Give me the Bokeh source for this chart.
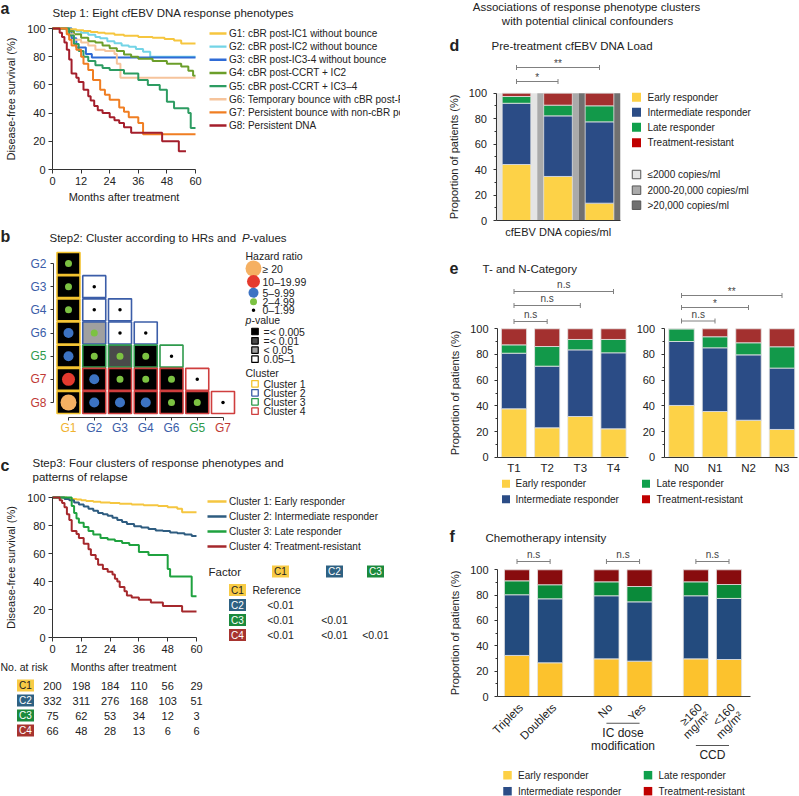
import math
from bokeh.plotting import figure
from bokeh.layouts import row, column
from bokeh.models import (Range1d, Label, LabelSet, BoxAnnotation, Whisker, TeeHead,
                          ColumnDataSource, FixedTicker)
from bokeh.core.properties import value
from bokeh.embed import file_html
from bokeh.resources import INLINE

# ------------------------------------------------------------------ data
months = [0, 12, 24, 36, 48, 60]
pct = [0, 20, 40, 60, 80, 100]
pct_minor = [10, 30, 50, 70, 90]

# panel a: Kaplan-Meier steps of the eight phenotypes
a_labels = ["G1: cBR post-IC1 without bounce", "G2: cBR post-IC2 without bounce",
            "G3: cBR post-IC3-4 without bounce", "G4: cBR post-CCRT + IC2",
            "G5: cBR post-CCRT + IC3–4", "G6: Temporary bounce with cBR post-RT",
            "G7: Persistent bounce with non-cBR post-RT", "G8: Persistent DNA"]
g1_t = [0, 7, 10, 13, 16, 19, 22, 26, 30, 36, 42, 47, 51, 54, 60]
g1_s = [100, 99.4, 98.8, 98.2, 97.6, 97, 96.4, 95.5, 94.8, 94, 93.5, 92.5, 91.5, 89.4, 89.4]
g2_t = [0, 8, 10, 12, 15, 18, 20, 23, 26, 29, 32, 35, 38, 41, 60]
g2_s = [100, 99, 98, 97, 95.5, 94, 93, 91, 89.5, 88, 87, 85.5, 83.5, 80, 80]
g3_t = [0, 8, 10, 14, 16.5, 60]
g3_s = [100, 93, 86.5, 82, 79.5, 79.5]
g4_t = [0, 6, 9, 12, 15, 18, 21, 24, 27, 30, 33, 36, 42, 48, 54, 57, 59, 60]
g4_s = [100, 98, 96, 93.5, 91, 90, 88, 86, 84, 81.5, 80, 78.5, 77, 75, 73, 70, 66.5, 66.5]
g5_t = [0, 7, 9, 11, 13, 15, 18, 21, 24, 30, 36, 40, 45, 48, 51, 57, 58, 60]
g5_s = [100, 95, 89, 84, 80, 77, 74, 72, 70.5, 68, 63.5, 60, 56.5, 48, 43.5, 40, 29.5, 29.5]
g6_t = [0, 6, 9, 12, 15, 18, 22, 26, 27, 28.5, 60]
g6_s = [100, 96, 92, 90, 88, 85, 84, 82, 75, 65, 65]
g7_t = [0, 6, 7, 8, 10, 12, 13, 15, 17, 20, 22, 24, 28, 30, 32, 36, 38, 60]
g7_s = [100, 96, 92, 88, 85, 80, 75, 70.5, 63.5, 56.5, 53, 49.5, 44, 41, 37, 33, 25, 25]
g8_t = [0, 3, 4, 5, 6, 7, 8, 10, 11, 13, 15, 16, 17.5, 19, 21, 24, 26, 28, 30, 33, 40, 46, 53, 56]
g8_s = [100, 97, 94, 90, 85, 78, 68, 65, 62, 56.5, 52, 49, 45, 42, 40, 37, 35, 33, 30, 26, 26, 20, 13, 13]

# panel b: hazard-ratio / p-value matrix (lower triangle)
b_rows = ["G2", "G3", "G4", "G6", "G5", "G7", "G8"]
b_cols = ["G1", "G2", "G3", "G4", "G6", "G5", "G7"]
# HR category: 0 = 0–1.99, 1 = 2–4.99, 2 = 5–9.99, 3 = 10–19.99, 4 = >=20
b_hr = [[1],
        [1, 0],
        [1, 0, 0],
        [2, 1, 0, 0],
        [2, 1, 1, 1, 0],
        [3, 2, 1, 1, 1, 0],
        [4, 2, 2, 2, 1, 1, 0]]
# p category: 0 = <=0.005, 1 = <=0.01, 2 = <0.05, 3 = 0.05–1
b_p = [[0],
       [0, 3],
       [0, 3, 3],
       [0, 2, 3, 3],
       [0, 0, 1, 0, 3],
       [0, 0, 0, 0, 0, 3],
       [0, 0, 0, 0, 0, 0, 3]]
g_cluster = {"G1": 1, "G2": 2, "G3": 2, "G4": 2, "G6": 2, "G5": 3, "G7": 4, "G8": 4}
hr_legend = ["≥ 20", "10–19.99", "5–9.99", "2–4.99", "0–1.99"]
p_legend = ["=< 0.005", "=< 0.01", "< 0.05", "0.05–1"]
cluster_legend = ["Cluster 1", "Cluster 2", "Cluster 3", "Cluster 4"]

# panel c: four clusters
c_labels = ["Cluster 1: Early responder", "Cluster 2: Intermediate responder",
            "Cluster 3: Late responder", "Cluster 4: Treatment-resistant"]
c1_t = [0, 6, 8, 10, 12, 14, 17, 20, 24, 28, 33, 38, 44, 48, 52, 54, 60]
c1_s = [100, 99.5, 99, 98.5, 98, 97.5, 97, 96.5, 96, 95.5, 95, 94.5, 94, 93, 92, 89.5, 89.5]
c2_t = [0, 5, 7, 9, 11, 13, 15, 17, 19, 21, 23, 25, 27, 29, 31, 34, 37, 40, 43, 46, 49, 52, 55, 58, 60]
c2_s = [100, 99, 98, 96.5, 95, 93.5, 92, 90.5, 89, 88, 87, 85.5, 84, 82.5, 81, 79.5, 78.5, 77.5,
        76.5, 76, 75, 74.5, 73.5, 72.5, 72.5]
c3_t = [0, 8, 9, 10, 11, 13, 15, 17, 20, 23, 26, 29, 32, 36, 40, 48, 49, 57, 58, 60]
c3_s = [100, 94, 89, 85, 82, 79, 76, 73.5, 71, 70, 69, 67.5, 66, 61, 59, 49, 43.5, 43.5, 29.5, 29.5]
c4_t = [0, 3, 4, 5, 6, 7, 8, 10, 11, 13, 15, 16, 18, 19, 21, 23, 25, 26, 27, 28, 30, 31, 33, 36,
        41, 46, 54, 60]
c4_s = [100, 98, 96, 93, 88, 84, 76, 74, 71, 67, 63, 59, 56, 52, 49, 47, 45, 42, 40, 36, 33, 30,
        28.5, 27, 25, 22.5, 18.5, 18.5]
c_codes = ["C1", "C2", "C3", "C4"]
factor_vals = [["Reference"], ["<0.01"], ["<0.01", "<0.01"], ["<0.01", "<0.01", "<0.01"]]
risk_c1 = [200, 198, 184, 110, 56, 29]
risk_c2 = [332, 311, 276, 168, 103, 51]
risk_c3 = [75, 62, 53, 34, 12, 3]
risk_c4 = [66, 48, 28, 13, 6, 6]

# panels d-f: stacked proportions (%)
resp_labels = ["Early responder", "Intermediate responder", "Late responder", "Treatment-resistant"]
d_groups = ["≤2000 copies/ml", "2000-20,000 copies/ml", ">20,000 copies/ml"]
d_early = [44.0, 34.6, 13.6]
d_inter = [48.1, 47.6, 63.9]
d_late = [5.3, 8.4, 12.6]
d_resist = [2.6, 9.4, 9.9]
d_sig = ["**", "*"]          # vs first group: third, second

t_cats = ["T1", "T2", "T3", "T4"]
t_early = [37.7, 22.9, 31.7, 22.1]
t_inter = [43.3, 48.0, 51.9, 59.2]
t_late = [6.5, 15.3, 8.1, 10.4]
t_resist = [12.5, 13.8, 8.3, 8.3]
t_sig = ["n.s", "n.s", "n.s"]     # T1 vs T4, T3, T2

n_cats = ["N0", "N1", "N2", "N3"]
n_early = [40.3, 35.6, 28.8, 21.6]
n_inter = [49.8, 49.6, 50.9, 47.8]
n_late = [9.9, 8.6, 9.4, 16.6]
n_resist = [0.0, 6.2, 10.9, 14.0]
n_sig = ["**", "*", "n.s"]        # N0 vs N3, N2, N1

f_cats = ["Triplets", "Doublets", "No", "Yes", "≥160\nmg/m²", "<160\nmg/m²"]
f_groups = ["", "IC dose\nmodification", "CCD"]
f_early = [32.4, 26.6, 29.7, 27.9, 29.7, 29.2]
f_inter = [47.9, 50.5, 49.8, 46.8, 49.8, 48.2]
f_late = [11.0, 11.1, 11.0, 12.1, 11.0, 11.0]
f_resist = [8.7, 11.8, 9.5, 13.2, 9.5, 11.6]
f_sig = ["n.s", "n.s", "n.s"]

# ------------------------------------------------------------------ styles
FONT = "Liberation Sans"
TXT = "#222222"
LEG = 10          # legend text size
a_colors = ["#F6C63F", "#73D4E6", "#2F6BD6", "#6B9E2A", "#2D9C62", "#F6C49C", "#F07E22", "#A41E2B"]
c_colors = ["#F5C640", "#2E5C80", "#1FA23F", "#A5282C"]
c_box = ["#F8CB45", "#2E6182", "#1B8A3C", "#A7342F"]
c_box_txt = ["#222222", "white", "white", "white"]
g_text_col = {1: "#F0B22E", 2: "#3B5DA8", 3: "#2E9A4C", 4: "#C03A35"}
cl_border = {1: "#F3C22F", 2: "#3B5DA8", 3: "#2E9A4C", 4: "#CF3E3E"}
hr_size = {4: 16, 3: 13, 2: 10, 1: 7, 0: 3.5}
hr_col = {4: "#F5B062", 3: "#E53A2E", 2: "#3C73C3", 1: "#7CC242", 0: "#000000"}
p_fill = {0: "#000000", 1: "#4A4A4A", 2: "#A0A0A0", 3: "#FFFFFF"}
de_cols = ["#FDD247", "#2B4C86", "#12994A", "#A3302F"]
f_cols = ["#FCC22D", "#234B7E", "#0A8A3A", "#880C0E"]
leg_cols = ["#FDD045", "#2B4C86", "#0FA04C", "#C00000"]
band_cols = ["#E4E4E4", "#AAAAAA", "#707070"]


def _inv(cal, px):
    v0, p0, v1, p1 = cal
    return v0 + (px - p0) * (v1 - v0) / (p1 - p0)


class Panel:
    """A figure whose frame fills the whole canvas; positions given in picture pixels."""
    def __init__(self, ox, oy, W, H, xcal, ycal):
        self.ox, self.oy, self.W, self.H = ox, oy, W, H
        self.xcal, self.ycal = xcal, ycal
        xr = Range1d(_inv(xcal, ox), _inv(xcal, ox + W))
        yr = Range1d(_inv(ycal, oy + H), _inv(ycal, oy))
        p = figure(width=W, height=H, x_range=xr, y_range=yr, title=None,
                   toolbar_location=None, output_backend="svg", min_border=0)
        p.outline_line_color = None
        p.xgrid.visible = False
        p.ygrid.visible = False
        p.background_fill_color = "white"
        p.border_fill_color = "white"
        self.p = p

    def xv(self, px):
        return _inv(self.xcal, px)

    def yv(self, py):
        return _inv(self.ycal, py)

    def sx(self, x):
        return x - self.ox

    def sy(self, y):
        return self.H - (y - self.oy)


def lab(P, x, y, text, size=11, align="left", base="middle", color=TXT, style="normal", angle=0):
    P.p.add_layout(Label(x=P.sx(x), y=P.sy(y), x_units="screen", y_units="screen", text=text,
                         text_font=FONT, text_font_size=f"{size}px", text_align=align,
                         text_baseline=base, text_color=color, text_font_style=style, angle=angle))


def labd(P, xd, y, text, size=11, align="center", color=TXT):
    P.p.add_layout(Label(x=xd, y=P.sy(y), x_units="data", y_units="screen", text=text,
                         text_font=FONT, text_font_size=f"{size}px", text_align=align,
                         text_baseline="middle", text_color=color))


def sbox(P, cx, cy, w, h, fill, line=None, lw=1.0, radius=0):
    kw = dict(left=P.sx(cx - w / 2), right=P.sx(cx + w / 2), top=P.sy(cy - h / 2),
              bottom=P.sy(cy + h / 2), left_units="screen", right_units="screen",
              top_units="screen", bottom_units="screen",
              fill_color=fill, fill_alpha=1.0 if fill else 0.0,
              line_color=line, line_alpha=1.0, line_width=lw)
    if radius:
        kw["border_radius"] = int(math.ceil(radius))
    P.p.add_layout(BoxAnnotation(**kw))


def style_axis(ax, size=11, tick_out=4, standoff=3):
    ax.axis_line_color = "#333333"
    ax.axis_line_width = 1
    ax.major_tick_line_color = "#333333"
    ax.major_tick_in = 0
    ax.major_tick_out = tick_out
    ax.minor_tick_line_color = None
    ax.major_label_standoff = standoff
    ax.major_label_text_font = FONT
    ax.major_label_text_font_size = f"{size}px"
    ax.major_label_text_color = TXT
    ax.axis_label_text_font = FONT
    ax.axis_label_text_font_size = "11px"
    ax.axis_label_text_font_style = "normal"
    ax.axis_label_text_color = TXT


def pct_axis(ax, label=None):
    style_axis(ax, tick_out=3, standoff=6)
    ax.ticker = FixedTicker(ticks=pct, minor_ticks=pct_minor)
    ax.bounds = (0, 100)
    ax.minor_tick_line_color = "#333333"
    ax.minor_tick_in = 0
    ax.minor_tick_out = 2
    if label:
        ax.axis_label = label
        ax.axis_label_standoff = 6


def brackets(P, lows, ups, ys, texts):
    src = ColumnDataSource(dict(lower=lows, upper=ups, base=[P.sy(y) for y in ys]))
    P.p.add_layout(Whisker(source=src, lower="lower", upper="upper", base="base",
                           base_units="screen", dimension="width",
                           line_color="#808080", line_width=1,
                           lower_head=TeeHead(size=5, line_color="#808080", line_width=1),
                           upper_head=TeeHead(size=5, line_color="#808080", line_width=1)))
    offs = [7 if "n" in t else 4 for t in texts]
    tsrc = ColumnDataSource(dict(x=[(l + u) / 2 for l, u in zip(lows, ups)],
                                 y=[P.sy(y - o) for y, o in zip(ys, offs)], t=texts))
    P.p.add_layout(LabelSet(x="x", y="y", y_units="screen", text="t", source=tsrc,
                            text_align="center", text_baseline="middle", text_font=value(FONT),
                            text_font_size="10px", text_color="#444444"))


def stacked(P, xs, parts, colors, width):
    src = ColumnDataSource(dict(x=xs, early=parts[0], inter=parts[1], late=parts[2], resist=parts[3]))
    P.p.vbar_stack(["early", "inter", "late", "resist"], x="x", width=width, fill_color=colors,
                   line_color="#E4E4E4", line_width=0.8, source=src)


# ------------------------------------------------------------------ panel a
A = Panel(0, 0, 400, 205, (0, 52, 60, 195), (0, 169, 100, 28))
a_t = [g1_t, g2_t, g3_t, g4_t, g5_t, g6_t, g7_t, g8_t]
a_s = [g1_s, g2_s, g3_s, g4_s, g5_s, g6_s, g7_s, g8_s]
for i in [1, 2, 0, 3, 5, 4, 6, 7]:
    A.p.step(a_t[i], a_s[i], mode="after", line_color=a_colors[i], line_width=2)
xa, ya = A.p.xaxis[0], A.p.yaxis[0]
style_axis(xa)
style_axis(ya, standoff=3)
xa.fixed_location = 0
ya.fixed_location = 0
xa.ticker = FixedTicker(ticks=months)
xa.bounds = (0, 60)
ya.ticker = FixedTicker(ticks=pct)
ya.bounds = (0, 100)
xa.axis_label = "Months after treatment"
xa.axis_label_standoff = 3
ya.axis_label = "Disease-free survival (%)"
ya.axis_label_standoff = 7
lab(A, 0, 8, "a", 16, base="alphabetic", style="bold")
lab(A, 52, 12, "Step 1: Eight cfEBV DNA response phenotypes", 11.5)
for i, (name, col) in enumerate(zip(a_labels, a_colors)):
    y = 33 + 13.15 * i
    sbox(A, 217.5, y, 17, 2.4, col)
    lab(A, 228.5, y, name, LEG)

# ------------------------------------------------------------------ panel b
B = Panel(0, 205, 400, 235, (0, 68, 6, 222.5), (0, 263, 6, 402))
cx, cy, cf, cl, dsz, dcol = [], [], [], [], [], []
for i, rname in enumerate(b_rows):
    for j in range(i + 1):
        cx.append(j)
        cy.append(i)
        cf.append(p_fill[b_p[i][j]])
        cl.append(cl_border[g_cluster[b_cols[j]] if j == 0 else g_cluster[rname]])
        dsz.append(hr_size[b_hr[i][j]])
        dcol.append(hr_col[b_hr[i][j]])
bsrc = ColumnDataSource(dict(x=cx, y=cy, fill=cf, line=cl, sz=dsz, dc=dcol))
B.p.rect(x="x", y="y", width=23 / 25.75, height=22 / 23.17, fill_color="fill", line_color="line",
         line_width=1.6, source=bsrc)
B.p.scatter(x="x", y="y", size="sz", fill_color="dc", line_color=None, source=bsrc)
xb, yb = B.p.xaxis[0], B.p.yaxis[0]
for ax in (xb, yb):
    style_axis(ax, tick_out=3)
    ax.ticker = FixedTicker(ticks=list(range(7)))
    ax.bounds = (0, 6)
    ax.major_label_text_font_size = "1px"
    ax.major_label_text_color = None
xb.fixed_location = B.yv(416.5)
yb.fixed_location = B.xv(52.5)
B.p.add_layout(LabelSet(x="x", y="y", y_units="screen", text="t", text_color="c",
                        source=ColumnDataSource(dict(x=list(range(7)), y=[B.sy(427)] * 7, t=b_cols,
                                                     c=[g_text_col[g_cluster[g]] for g in b_cols])),
                        text_align="center", text_baseline="middle", text_font=value(FONT),
                        text_font_size="12px"))
B.p.add_layout(LabelSet(x="x", y="y", x_units="screen", text="t", text_color="c",
                        source=ColumnDataSource(dict(x=[B.sx(46)] * 7, y=list(range(7)), t=b_rows,
                                                     c=[g_text_col[g_cluster[g]] for g in b_rows])),
                        text_align="right", text_baseline="middle", text_font=value(FONT),
                        text_font_size="12px"))
lab(B, 0, 236, "b", 16, base="alphabetic", style="bold")
lab(B, 49, 237, "Step2: Cluster according to HRs and ", 11.5)
lab(B, 241.5, 237, "P", 11.5, style="italic")
lab(B, 249, 237, "-values", 11.5)
lab(B, 245, 255, "Hazard ratio", 10.5)
for k, (txt, yy) in enumerate(zip(hr_legend, [268, 281, 292.3, 301.3, 309.7])):
    cat = 4 - k
    d = hr_size[cat]
    sbox(B, 253, yy, d, d, hr_col[cat], radius=d / 2)
    lab(B, 262, yy, txt, 10.5)
lab(B, 245, 319, "p", 10.5, style="italic")
lab(B, 251, 319, "-value", 10.5)
for k, (txt, yy) in enumerate(zip(p_legend, [331, 340.3, 349.7, 358.7])):
    sbox(B, 254.5, yy, 6.5, 6.5, p_fill[k], line="#000000", lw=1.2)
    lab(B, 263, yy, txt, 10.5)
lab(B, 245, 372.7, "Cluster", 10.5)
for k, (txt, yy) in enumerate(zip(cluster_legend, [383.3, 392.3, 401.3, 410.7])):
    sbox(B, 254.5, yy, 6.5, 6.5, "#FFFFFF", line=cl_border[k + 1], lw=1.3)
    lab(B, 263, yy, txt, 10.5)

# ------------------------------------------------------------------ panel c
C = Panel(0, 440, 400, 356, (0, 52, 60, 196), (0, 637, 100, 497))
for t, s, col in zip([c1_t, c2_t, c3_t, c4_t], [c1_s, c2_s, c3_s, c4_s], c_colors):
    C.p.step(t, s, mode="after", line_color=col, line_width=2)
xc, yc = C.p.xaxis[0], C.p.yaxis[0]
style_axis(xc)
style_axis(yc, standoff=3)
xc.fixed_location = 0
yc.fixed_location = 0
xc.ticker = FixedTicker(ticks=months)
xc.bounds = (0, 60)
yc.ticker = FixedTicker(ticks=pct)
yc.bounds = (0, 100)
yc.axis_label = "Disease-free survival (%)"
yc.axis_label_standoff = 7
lab(C, 0, 465, "c", 16, base="alphabetic", style="bold")
lab(C, 32, 462, "Step3: Four clusters of response phenotypes and", 11.5)
lab(C, 32, 476, "patterns of relapse", 11.5)
for i, (name, col) in enumerate(zip(c_labels, c_colors)):
    y = 501 + 15 * i
    sbox(C, 216.5, y, 19, 2.4, col)
    lab(C, 228.5, y, name, LEG)
col_x = [280, 334, 375]
lab(C, 208, 571, "Factor", 11.5)
for j in range(3):
    sbox(C, col_x[j], 571, 17, 12, c_box[j])
    lab(C, col_x[j], 571, c_codes[j], 10, align="center", color=c_box_txt[j])
for i, vals in enumerate(factor_vals):
    y = 589.5 + 15 * i
    sbox(C, 237, y, 17, 12, c_box[i])
    lab(C, 237, y, c_codes[i], 10, align="center", color=c_box_txt[i])
    if i == 0:
        lab(C, 252, y, vals[0], 10.5)
    else:
        for j, v in enumerate(vals):
            lab(C, col_x[j], y, v, 10.5, align="center")
lab(C, 0, 666, "No. at risk", 10.5)
lab(C, 123, 666, "Months after treatment", 10.5, align="center")
for i, risk in enumerate([risk_c1, risk_c2, risk_c3, risk_c4]):
    y = 685 + 15 * i
    sbox(C, 25, y, 17, 12, c_box[i])
    lab(C, 25, y, c_codes[i], 10, align="center", color=c_box_txt[i])
    C.p.add_layout(LabelSet(x="x", y="y", y_units="screen", text="t",
                            source=ColumnDataSource(dict(x=months, y=[C.sy(y)] * 6,
                                                         t=[str(v) for v in risk])),
                            text_align="center", text_baseline="middle", text_font=value(FONT),
                            text_font_size="11px", text_color=TXT))

# ------------------------------------------------------------------ panel d
D = Panel(400, 0, 399, 240, (0, 516, 2, 599), (0, 220, 100, 92.7))
dx = list(range(len(d_groups)))
D.p.vbar(x=dx, bottom=0, top=100, width=1.0, fill_color=band_cols, line_color=None)
stacked(D, dx, [d_early, d_inter, d_late, d_resist], de_cols, 0.69)
xd, yd = D.p.xaxis[0], D.p.yaxis[0]
style_axis(xd)
xd.ticker = FixedTicker(ticks=[])
xd.major_tick_line_color = None
xd.fixed_location = 0
xd.bounds = (D.xv(495.5), D.xv(620))
pct_axis(yd, "Proportion of patients (%)")
yd.fixed_location = D.xv(495.5)
lab(D, 586, 6.5, "Associations of response phenotype clusters", 11.5, align="center")
lab(D, 587, 20, "with potential clinical confounders", 11.5, align="center")
lab(D, 449, 45, "d", 16, base="alphabetic", style="bold")
lab(D, 491, 45, "Pre-treatment cfEBV DNA Load", 11.5)
lab(D, 558, 231.5, "cfEBV DNA copies/ml", 11, align="center")
brackets(D, [0, 0], [2, 1], [67, 81], d_sig)
for k, (txt, yy) in enumerate(zip(resp_labels, [96.7, 111.7, 126.7, 142.3])):
    sbox(D, 636, yy, 9, 9, leg_cols[k])
    lab(D, 647, yy, txt, LEG)
for k, (txt, yy) in enumerate(zip(d_groups, [174, 189.7, 204.7])):
    sbox(D, 636, yy, 8.5, 8.5, band_cols[k], line="#555555", lw=1)
    lab(D, 647, yy, txt, LEG)

# ------------------------------------------------------------------ panel e
EL = Panel(400, 240, 234, 272, (0, 513.5, 3, 613), (0, 456.7, 100, 328.3))
ER = Panel(634, 240, 165, 272, (0, 681, 3, 781.5), (0, 456.7, 100, 328.3))
for P, cats, parts, sig, ys, ylab, x0p, x1p in [
        (EL, t_cats, [t_early, t_inter, t_late, t_resist], t_sig, [291, 305, 321],
         "Proportion of patients (%)", 497, 628),
        (ER, n_cats, [n_early, n_inter, n_late, n_resist], n_sig, [295, 307, 320.5], None,
         663.5, 797)]:
    xs = list(range(len(cats)))
    stacked(P, xs, parts, de_cols, 0.76)
    xe, ye = P.p.xaxis[0], P.p.yaxis[0]
    style_axis(xe, size=11.5, tick_out=0, standoff=5)
    xe.ticker = FixedTicker(ticks=xs)
    xe.major_label_overrides = {x: c for x, c in zip(xs, cats)}
    xe.major_tick_line_color = None
    xe.fixed_location = 0
    xe.bounds = (P.xv(x0p), P.xv(x1p))
    pct_axis(ye, ylab)
    ye.fixed_location = P.xv(x0p)
    brackets(P, [0, 0, 0], [3, 2, 1], ys, sig)
lab(EL, 449, 267, "e", 16, base="alphabetic", style="bold")
lab(EL, 482, 268, "T- and N-Category", 11.5)
for k, yy in [(0, 483.3), (1, 498.7)]:
    sbox(EL, 505.5, yy, 8, 8, leg_cols[k])
    lab(EL, 515, yy, resp_labels[k], LEG)
for k, yy in [(2, 483.3), (3, 498.7)]:
    sbox(ER, 645.5, yy, 8, 8, leg_cols[k])
    lab(ER, 656, yy, resp_labels[k], LEG)

# ------------------------------------------------------------------ panel f
F = Panel(400, 512, 399, 284, (0, 516.5, 6.4, 728.5), (0, 696, 100, 569.3))
f_x = [2.7 * (i // 2) + (i % 2) for i in range(len(f_cats))]
stacked(F, f_x, [f_early, f_inter, f_late, f_resist], f_cols, 0.76)
xf, yf = F.p.xaxis[0], F.p.yaxis[0]
style_axis(xf)
xf.ticker = FixedTicker(ticks=[])
xf.major_tick_line_color = None
xf.fixed_location = 0
xf.bounds = (F.xv(497), F.xv(750))
pct_axis(yf, "Proportion of patients (%)")
yf.fixed_location = F.xv(497)
lab(F, 449, 536, "f", 16, base="alphabetic", style="bold")
lab(F, 485, 537.7, "Chemotherapy intensity", 11.5)
brackets(F, [f_x[0], f_x[2], f_x[4]], [f_x[1], f_x[3], f_x[5]], [561, 561, 561], f_sig)
line1 = [c.split("\n")[0] for c in f_cats]
F.p.add_layout(LabelSet(x="x", y="y", y_units="screen", text="t", x_offset=4,
                        source=ColumnDataSource(dict(x=f_x, y=[F.sy(705)] * 6, t=line1)),
                        angle=math.pi / 4, text_align="right", text_baseline="middle",
                        text_font=value(FONT), text_font_size="11.5px", text_color=TXT))
l2x = [x for x, c in zip(f_x, f_cats) if "\n" in c]
l2t = [c.split("\n")[1] for c in f_cats if "\n" in c]
F.p.add_layout(LabelSet(x="x", y="y", y_units="screen", text="t", x_offset=12,
                        source=ColumnDataSource(dict(x=l2x, y=[F.sy(713)] * len(l2x), t=l2t)),
                        angle=math.pi / 4, text_align="right", text_baseline="middle",
                        text_font=value(FONT), text_font_size="11.5px", text_color=TXT))
for g, gname in enumerate(f_groups):
    if not gname:
        continue
    x0, x1 = f_x[2 * g], f_x[2 * g + 1]
    lines = gname.split("\n")
    ytop = 722.7 if len(lines) > 1 else 745
    F.p.add_layout(BoxAnnotation(left=x0, right=x1, top=F.sy(ytop - 0.5), bottom=F.sy(ytop + 0.6),
                                 top_units="screen", bottom_units="screen",
                                 fill_color="#555555", fill_alpha=1, line_color=None))
    for li, t in enumerate(lines):
        labd(F, (x0 + x1) / 2, ytop + 9.5 + 13.6 * li, t, 12)
for k, (xx, yy) in enumerate([(507, 774.7), (507, 790.7), (647.5, 774.7), (647.5, 790.7)]):
    sbox(F, xx, yy, 8.5, 8.5, leg_cols[k])
    lab(F, xx + 10.5, yy, resp_labels[k], LEG)

layout = row(column(A.p, B.p, C.p), column(D.p, row(EL.p, ER.p), F.p))
open("out.html", "w").write(file_html(layout, INLINE))
